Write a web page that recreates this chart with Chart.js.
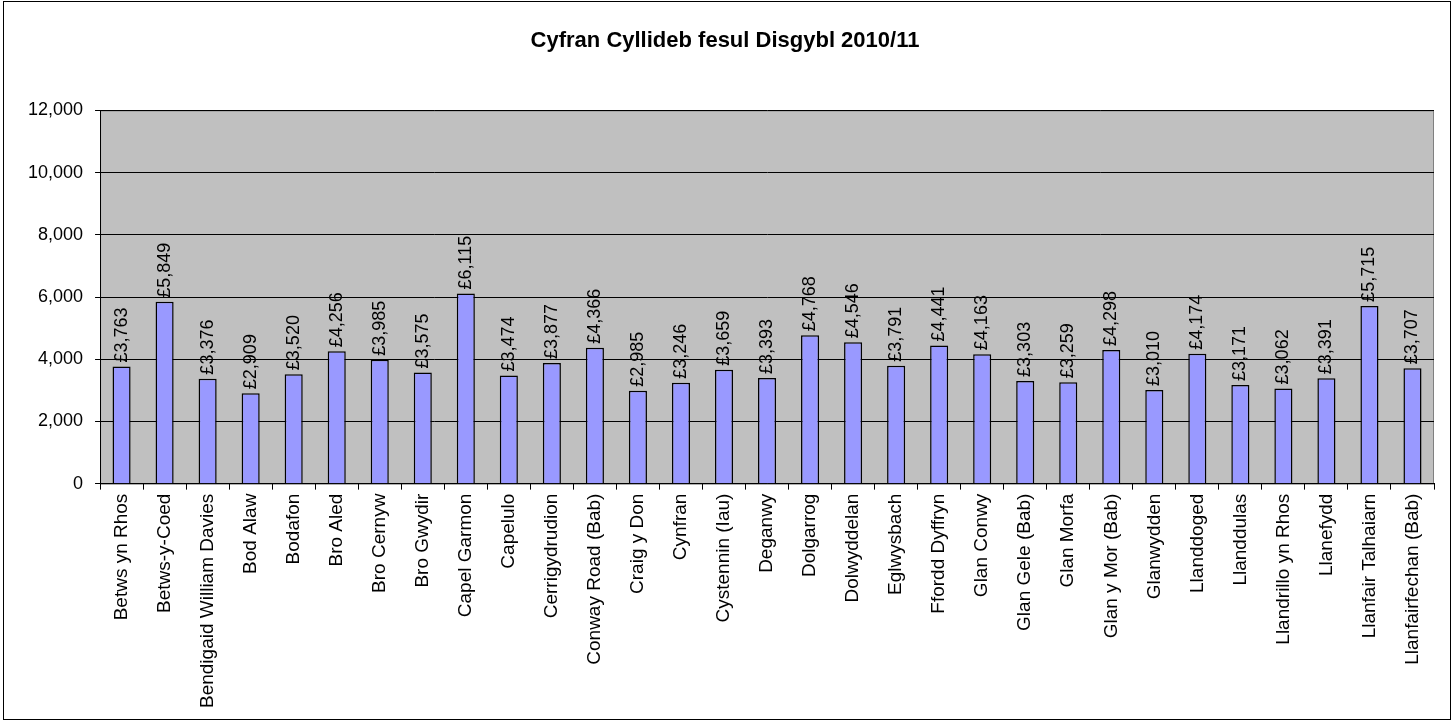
<!DOCTYPE html>
<html>
<head>
<meta charset="utf-8">
<script src="https://cdn.jsdelivr.net/npm/chart.js@4"></script>
<style>
  html, body { margin: 0; padding: 0; background: #fff; }
  #wrap { position: absolute; left: 3px; top: 1px; width: 1448px; height: 719px; border: 1px solid #000; box-sizing: border-box; }
</style>
</head>
<body>
<div id="wrap"><canvas id="myChart"></canvas></div>
<script>
const labels = ['Betws yn Rhos', 'Betws-y-Coed', 'Bendigaid William Davies', 'Bod Alaw', 'Bodafon',
  'Bro Aled', 'Bro Cernyw', 'Bro Gwydir', 'Capel Garmon', 'Capelulo', 'Cerrigydrudion',
  'Conway Road (Bab)', 'Craig y Don', 'Cynfran', 'Cystennin (Iau)', 'Deganwy', 'Dolgarrog',
  'Dolwyddelan', 'Eglwysbach', 'Ffordd Dyffryn', 'Glan Conwy', 'Glan Gele (Bab)', 'Glan Morfa',
  'Glan y Mor (Bab)', 'Glanwydden', 'Llanddoged', 'Llanddulas', 'Llandrillo yn Rhos',
  'Llanefydd', 'Llanfair Talhaiarn', 'Llanfairfechan (Bab)'];

const perPupil = [3763, 5849, 3376, 2909, 3520, 4256, 3985, 3575, 6115, 3474, 3877,
  4366, 2985, 3246, 3659, 3393, 4768, 4546, 3791, 4441, 4163, 3303, 3259,
  4298, 3010, 4174, 3171, 3062, 3391, 5715, 3707];

const titleText = 'Cyfran Cyllideb fesul Disgybl 2010/11';
const yMax = 12000;
const yStep = 2000;

const FONT = '"Liberation Sans", Arial, sans-serif';
const fmt = v => v.toLocaleString('en-GB');

// grey plot area
const plotBg = {
  id: 'plotBg',
  beforeDraw(chart) {
    const { ctx, chartArea: a } = chart;
    ctx.save();
    ctx.fillStyle = '#C0C0C0';
    ctx.fillRect(a.left, a.top, a.right - a.left, a.bottom - a.top);
    ctx.strokeStyle = '#808080';
    ctx.lineWidth = 1;
    ctx.strokeRect(a.left + 0.5, a.top + 0.5, a.right - a.left - 1, a.bottom - a.top);
    ctx.restore();
  }
};

// rotated value labels above bars
const valueLabels = {
  id: 'valueLabels',
  afterDatasetsDraw(chart) {
    const { ctx } = chart;
    const meta = chart.getDatasetMeta(0);
    ctx.save();
    ctx.font = '18px ' + FONT;
    ctx.fillStyle = '#000';
    ctx.textAlign = 'left';
    ctx.textBaseline = 'middle';
    meta.data.forEach((bar, i) => {
      ctx.save();
      ctx.translate(bar.x, bar.y - 4);
      ctx.rotate(-Math.PI / 2);
      ctx.fillText('£' + fmt(chart.data.datasets[0].data[i]), 0, 0);
      ctx.restore();
    });
    ctx.restore();
  }
};

new Chart(document.getElementById('myChart'), {
  type: 'bar',
  data: {
    labels: labels,
    datasets: [{
      label: 'Cyfran Cyllideb fesul Disgybl',
      data: perPupil,
      backgroundColor: '#9999FF',
      borderColor: '#000',
      borderWidth: 1.5,
      categoryPercentage: 1,
      barPercentage: 0.42
    }]
  },
  options: {
    responsive: true,
    maintainAspectRatio: false,
    animation: false,
    layout: { padding: { left: 12, right: 16, top: 0, bottom: 7 } },
    plugins: {
      legend: { display: false },
      tooltip: { enabled: false },
      title: {
        display: true,
        text: titleText,
        color: '#000',
        font: { family: FONT, size: 22, weight: 'bold' },
        padding: { top: 26, bottom: 56 }
      }
    },
    scales: {
      y: {
        min: 0,
        max: yMax,
        ticks: {
          stepSize: yStep,
          color: '#000',
          padding: 12,
          font: { family: FONT, size: 18 },
          callback: v => fmt(v)
        },
        grid: { color: '#000', lineWidth: 1, tickLength: 5, drawTicks: true },
        border: { color: '#000', width: 1 }
      },
      x: {
        ticks: {
          color: '#000',
          minRotation: 90,
          maxRotation: 90,
          autoSkip: false,
          padding: 4,
          font: { family: FONT, size: 19 }
        },
        grid: { offset: true, drawOnChartArea: false, color: '#000', tickLength: 6 },
        border: { color: '#000', width: 1 }
      }
    }
  },
  plugins: [plotBg, valueLabels]
});
</script>
</body>
</html>
